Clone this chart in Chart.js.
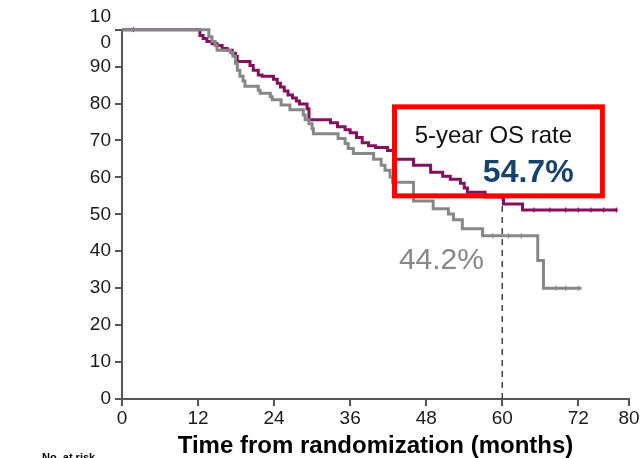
<!DOCTYPE html>
<html>
<head>
<meta charset="utf-8">
<script src="https://cdn.jsdelivr.net/npm/chart.js@4.4.1/dist/chart.umd.min.js"></script>
<style>
  html, body { margin: 0; padding: 0; background: #fff; }
  #wrap { width: 641px; height: 458px; position: relative; }
</style>
</head>
<body>
<div id="wrap"><canvas id="os" width="641" height="458"></canvas></div>
<script>
const X_TICKS = [0, 12, 24, 36, 48, 60, 72, 80];
const Y_TICKS = [0, 10, 20, 30, 40, 50, 60, 70, 80, 90, 100];

// Kaplan-Meier steps: month of each drop and OS (%) after it
const ARM_A_MONTHS = [0, 12.3, 12.8, 13.4, 14.2, 15.0, 15.8, 16.6, 17.4, 17.9, 18.2, 20.2, 20.7, 21.5, 22.1,
  23.9, 24.5, 25.0, 25.6, 26.2, 26.9, 27.5, 28.0, 29.2, 29.5, 32.9, 34.0, 35.2, 36.0, 37.0, 37.9, 38.9,
  40.0, 41.9, 43.0, 46.0, 48.7, 50.6, 51.8, 53.4, 54.0, 54.5, 57.3, 60.2, 63.2, 78.2];
const ARM_A_OS = [100, 98.4, 97.6, 96.8, 96.2, 95.7, 94.9, 94.4, 93.6, 92.8, 91.4, 90.3, 89.0, 87.7, 87.4,
  86.6, 85.5, 84.5, 83.4, 82.3, 81.5, 80.7, 79.9, 78.6, 75.6, 74.8, 73.7, 72.9, 72.1, 70.8, 69.4, 68.6,
  68.1, 67.3, 64.9, 63.3, 61.4, 60.3, 59.5, 58.4, 57.1, 56.0, 54.7, 52.8, 51.2, 51.2];

const ARM_B_MONTHS = [0, 13.7, 14.2, 14.7, 15.0, 17.1, 17.5, 17.9, 18.2, 18.6, 19.1, 19.4, 21.5, 21.8, 23.4,
  23.7, 25.1, 26.5, 28.6, 28.9, 29.5, 30.0, 30.2, 34.1, 35.2, 35.7, 36.5, 39.7, 40.9, 41.5, 42.3, 42.7,
  46.0, 49.1, 51.5, 52.3, 53.7, 56.9, 65.6, 66.5, 72.5];
const ARM_B_OS = [100, 98.1, 96.8, 95.7, 94.4, 93.8, 92.8, 90.9, 89.0, 87.4, 86.1, 84.7, 83.6, 82.8, 81.8,
  81.0, 79.6, 78.3, 76.9, 75.6, 74.5, 73.2, 71.8, 70.5, 69.2, 67.8, 66.5, 64.9, 63.3, 61.9, 60.1, 58.7,
  53.6, 51.5, 50.1, 48.5, 46.1, 44.2, 37.5, 30.0, 30.0];

// censored patients (months)
const ARM_A_CENSOR = [1.8, 65, 67.5, 70, 72, 74, 76, 78];
const ARM_B_CENSOR = [58.5, 61, 63, 68.5, 70, 72];

const OS_5Y_A = 54.7;
const OS_5Y_B = 44.2;

const PURPLE = '#85115c';
const GREY = '#878787';
const AXIS = '#555555';
const FONT = "'Liberation Sans', Arial, sans-serif";

Chart.defaults.font.family = FONT;

const steps = (months, os) => months.map((m, i) => ({ x: m, y: os[i] }));
// value of the KM curve at month t
const osAt = (months, os, t) => {
  let v = os[0];
  months.forEach((m, i) => { if (m <= t) v = os[i]; });
  return v;
};
const censorPts = (list, months, os) => list.map(t => ({ x: t, y: osAt(months, os, t) }));

const curve = (data, color) => ({
  data, borderColor: color, borderWidth: 3, stepped: 'before',
  pointRadius: 0, fill: false, clip: false
});
const ticks = (data, color) => ({
  type: 'scatter', data, showLine: false, borderColor: color, borderWidth: 1.2,
  pointStyle: 'line', rotation: 90, pointRadius: 2.5, clip: false
});

const callout = {
  id: 'callout',
  beforeDatasetsDraw(chart) {
    const { ctx, scales: { x, y } } = chart;
    ctx.save();
    ctx.strokeStyle = '#444';
    ctx.lineWidth = 1.5;
    ctx.setLineDash([6, 5]);
    ctx.beginPath();
    ctx.moveTo(x.getPixelForValue(60), y.getPixelForValue(0));
    ctx.lineTo(x.getPixelForValue(60), y.getPixelForValue(OS_5Y_A));
    ctx.stroke();
    ctx.restore();
  },
  afterDatasetsDraw(chart) {
    const { ctx, scales: { x, y } } = chart;
    ctx.save();
    const x0 = x.getPixelForValue(43), x1 = x.getPixelForValue(75.8);
    const y0 = y.getPixelForValue(79.1), y1 = y.getPixelForValue(55);
    ctx.strokeStyle = '#ff0000';
    ctx.lineWidth = 5;
    ctx.strokeRect(x0, y0, x1 - x0, y1 - y0);

    ctx.textAlign = 'center';
    ctx.textBaseline = 'middle';
    ctx.fillStyle = '#111';
    ctx.font = '24px ' + FONT;
    ctx.fillText('5-year OS rate', x.getPixelForValue(58.6), y.getPixelForValue(71));
    ctx.fillStyle = '#17426e';
    ctx.font = 'bold 32px ' + FONT;
    ctx.fillText(OS_5Y_A.toFixed(1) + '%', x.getPixelForValue(64.1), y.getPixelForValue(61.1));
    ctx.fillStyle = GREY;
    ctx.font = '30px ' + FONT;
    ctx.fillText(OS_5Y_B.toFixed(1) + '%', x.getPixelForValue(50.4), y.getPixelForValue(37.3));

    ctx.fillStyle = '#000';
    ctx.textAlign = 'left';
    ctx.textBaseline = 'top';
    ctx.font = 'bold 11px ' + FONT;
    ctx.fillText('No. at risk', 42, 452);
    ctx.restore();
  }
};

new Chart(document.getElementById('os'), {
  type: 'line',
  data: {
    datasets: [
      curve(steps(ARM_B_MONTHS, ARM_B_OS), GREY),
      curve(steps(ARM_A_MONTHS, ARM_A_OS), PURPLE),
      ticks(censorPts(ARM_B_CENSOR, ARM_B_MONTHS, ARM_B_OS), GREY),
      ticks(censorPts(ARM_A_CENSOR, ARM_A_MONTHS, ARM_A_OS), PURPLE)
    ]
  },
  options: {
    responsive: false,
    devicePixelRatio: 1,
    animation: false,
    layout: { padding: { top: 26, right: 12, left: 0, bottom: 0 } },
    plugins: { legend: { display: false }, tooltip: { enabled: false } },
    scales: {
      x: {
        type: 'linear', min: 0, max: 80,
        afterBuildTicks: s => { s.ticks = X_TICKS.map(v => ({ value: v })); },
        afterFit: s => { s.height = 59; },
        ticks: { color: '#1a1a1a', font: { size: 19 }, padding: 1, maxRotation: 0, autoSkip: false },
        grid: { drawOnChartArea: false, drawTicks: true, tickLength: 7, color: AXIS, lineWidth: 2 },
        border: { color: AXIS, width: 2 },
        title: {
          display: true, text: 'Time from randomization (months)', color: '#000',
          font: { size: 24, weight: 'bold', lineHeight: 1 }, padding: { top: 0, bottom: 0 }
        }
      },
      y: {
        min: 0, max: 100,
        afterBuildTicks: s => { s.ticks = Y_TICKS.map(v => ({ value: v })); },
        afterFit: s => { s.width = 122; },
        ticks: {
          color: '#1a1a1a', font: { size: 19, lineHeight: 1.35 }, padding: 4, autoSkip: false,
          callback: v => v === 100 ? ['10', '0'] : String(v)
        },
        grid: { drawOnChartArea: false, drawTicks: true, tickLength: 7, color: AXIS, lineWidth: 2 },
        border: { color: AXIS, width: 2 }
      }
    }
  },
  plugins: [callout]
});
</script>
</body>
</html>
